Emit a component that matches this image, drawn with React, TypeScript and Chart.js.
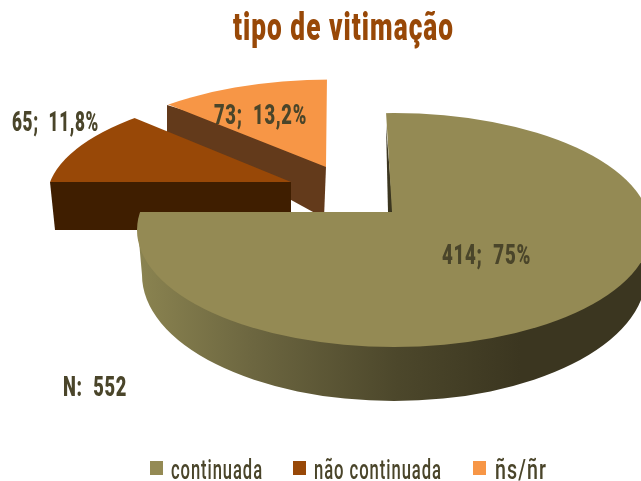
import React, { useEffect, useRef } from "react";
import { Chart, registerables } from "chart.js";

Chart.register(...registerables);

const categories = ["continuada", "não continuada", "ñs/ñr"];
const counts = [414, 65, 73];
const percents = ["75%", "11,8%", "13,2%"];
const totalLabel = "N: 552";
const titleText = "tipo de vitimação";
const colors = ["#948A54", "#984807", "#F79646"];
const FAMILY = 'Roboto, "Noto Sans", sans-serif';
const DARK_TEXT = "#4A452A";

// 3D projection of each slice: vertex, stretch, shear, outline ellipse
const projection = [
  { vx: 392, vy: 212, asp: 0.455, shear: 0.06, ex: 394, ey: 230, rx: 257, ry: 117 },
  { vx: 291, vy: 182, asp: 0.448, shear: 0, ex: 297, ey: 200, rx: 250.5, ry: 107.5 },
  { vx: 326, vy: 167, asp: 0.432, shear: -0.011, ex: 332, ey: 186, rx: 254, ry: 106.5 },
];
const labelPlaces = [
  { x: 442, y: 264, w: 89 },
  { x: 12, y: 131, w: 87 },
  { x: 214, y: 124, w: 93 },
];
const totalPlace = { x: 63, y: 396, w: 64 };
const titlePlace = { x: 233, y: 40, w: 221 };
const legendPlaces = [
  { box: 150, x: 171, w: 92 },
  { box: 293, x: 314, w: 128 },
  { box: 473, x: 495, w: 52 },
];

function fitText(
  ctx: CanvasRenderingContext2D,
  text: string,
  x: number,
  y: number,
  width: number,
) {
  const natural = ctx.measureText(text).width;
  ctx.save();
  ctx.translate(x, y);
  ctx.scale(width / natural, 1);
  ctx.fillText(text, 0, 0);
  ctx.restore();
}

function drawSides(ctx: CanvasRenderingContext2D, index: number) {
  ctx.beginPath();
  if (index === 0) {
    const g = ctx.createLinearGradient(140, 0, 520, 0);
    g.addColorStop(0, "#8A8350");
    g.addColorStop(0.3, "#6C6640");
    g.addColorStop(0.68, "#4C472B");
    g.addColorStop(1, "#3B3620");
    ctx.fillStyle = g;
    ctx.moveTo(138, 230);
    ctx.lineTo(142, 275);
    ctx.ellipse(394, 275, 252, 126, 0, Math.PI, 0, true);
    ctx.lineTo(651, 230);
    ctx.closePath();
    ctx.fill();
    ctx.fillStyle = "#3B3620";
    ctx.beginPath();
    ctx.moveTo(386, 125);
    ctx.lineTo(388, 212);
    ctx.lineTo(393, 212);
    ctx.closePath();
    ctx.fill();
  } else if (index === 1) {
    ctx.fillStyle = "#3F1E00";
    ctx.moveTo(50, 182);
    ctx.lineTo(291, 182);
    ctx.lineTo(291, 230);
    ctx.lineTo(55, 230);
    ctx.closePath();
    ctx.fill();
  } else {
    ctx.fillStyle = "#633A1B";
    ctx.moveTo(167, 105);
    ctx.lineTo(200, 115);
    ctx.lineTo(326, 163);
    ctx.lineTo(326, 167);
    ctx.lineTo(324, 218);
    ctx.lineTo(167, 132);
    ctx.closePath();
    ctx.fill();
  }
}

const pie3d = {
  id: "pie3d",
  beforeDatasetsDraw(chart: any) {
    const ctx: CanvasRenderingContext2D = chart.ctx;
    const arcs = chart.getDatasetMeta(0).data;
    [2, 1, 0].forEach((i) => {
      const el = arcs[i];
      const p = projection[i];
      drawSides(ctx, i);
      ctx.save();
      ctx.beginPath();
      ctx.ellipse(p.ex, p.ey, p.rx, p.ry, 0, 0, Math.PI * 2);
      ctx.clip();
      const k = 460 / el.outerRadius;
      ctx.translate(p.vx, p.vy);
      ctx.transform(k, 0, p.shear * k * p.asp, k * p.asp, 0, 0);
      ctx.translate(-el.x, -el.y);
      el.draw(ctx);
      ctx.restore();
    });
    return false;
  },
  afterDraw(chart: any) {
    const ctx: CanvasRenderingContext2D = chart.ctx;
    ctx.save();
    ctx.textBaseline = "alphabetic";
    ctx.textAlign = "left";

    ctx.fillStyle = "#984807";
    ctx.font = `900 38px ${FAMILY}`;
    (ctx as any).letterSpacing = "1.5px";
    fitText(ctx, titleText, titlePlace.x, titlePlace.y, titlePlace.w);

    ctx.fillStyle = DARK_TEXT;
    ctx.font = `900 27px ${FAMILY}`;
    (ctx as any).letterSpacing = "1px";
    counts.forEach((c, i) => {
      const p = labelPlaces[i];
      fitText(ctx, `${c};  ${percents[i]}`, p.x, p.y, p.w);
    });
    fitText(ctx, totalLabel.replace(" ", "  "), totalPlace.x, totalPlace.y, totalPlace.w);

    ctx.font = `500 27px ${FAMILY}`;
    (ctx as any).letterSpacing = "1.5px";
    categories.forEach((c, i) => {
      const p = legendPlaces[i];
      ctx.fillStyle = colors[i];
      ctx.fillRect(p.box, 461, 13, 14);
      ctx.fillStyle = DARK_TEXT;
      fitText(ctx, c, p.x, 479, p.w);
    });
    ctx.restore();
  },
};

export default function App() {
  const ref = useRef<HTMLCanvasElement>(null);
  useEffect(() => {
    document.body.style.margin = "0";
    const chart = new Chart(ref.current!, {
      type: "pie",
      data: {
        labels: categories,
        datasets: [{ data: counts, backgroundColor: colors, borderWidth: 0 }],
      },
      options: {
        responsive: false,
        animation: false,
        plugins: {
          tooltip: { enabled: false },
          title: { display: false, text: titleText },
          legend: { display: false },
        },
      },
      plugins: [pie3d],
    } as any);
    return () => chart.destroy();
  }, []);
  return (
    <div style={{ position: "fixed", left: 0, top: 0, width: 641, height: 481, overflow: "hidden" }}>
      <canvas ref={ref} width={641} height={481} style={{ display: "block" }} />
    </div>
  );
}
